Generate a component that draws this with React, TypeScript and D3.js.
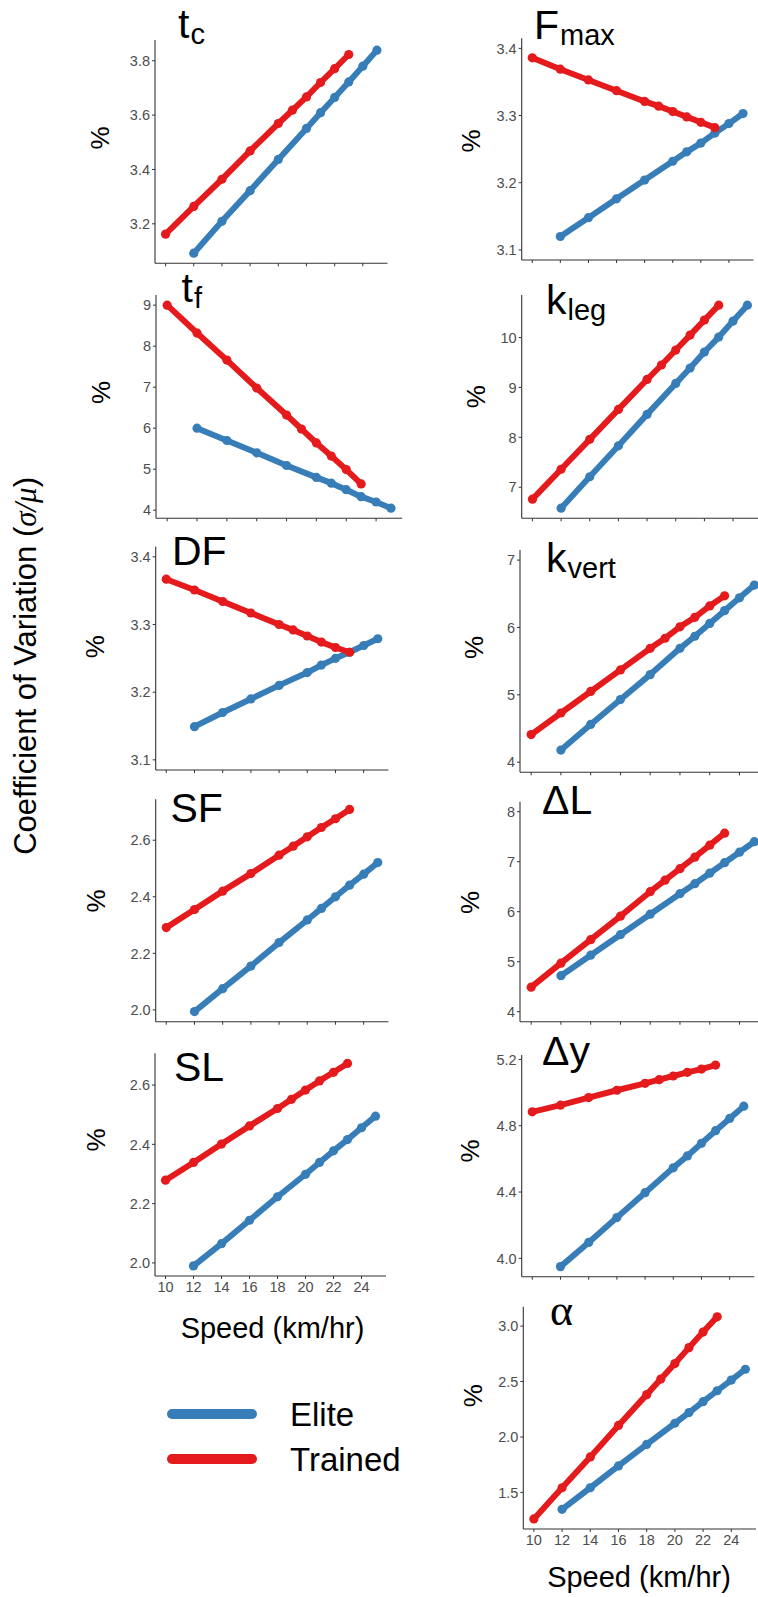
import React from "react";
import * as d3 from "d3";

// speeds (km/hr) at which each group was measured
const speedTrained = [10, 12, 14, 16, 18, 19, 20, 21, 22, 23];
const speedElite = [12, 14, 16, 18, 20, 21, 22, 23, 24, 25];
const xTicks = [10, 12, 14, 16, 18, 20, 22, 24];

// coefficient of variation (%) per variable
const tcTrained = [3.162, 3.264, 3.364, 3.468, 3.569, 3.618, 3.667, 3.72, 3.771, 3.823];
const tcElite = [3.092, 3.209, 3.322, 3.437, 3.551, 3.609, 3.665, 3.722, 3.78, 3.839];
const fmaxTrained = [3.386, 3.369, 3.353, 3.337, 3.321, 3.314, 3.306, 3.298, 3.29, 3.282];
const fmaxElite = [3.12, 3.148, 3.176, 3.204, 3.232, 3.246, 3.259, 3.274, 3.288, 3.303];
const tfTrained = [9.0, 8.32, 7.66, 6.98, 6.32, 5.98, 5.64, 5.32, 4.99, 4.64];
const tfElite = [6.0, 5.7, 5.4, 5.09, 4.8, 4.66, 4.5, 4.33, 4.2, 4.05];
const klegTrained = [6.76, 7.36, 7.96, 8.56, 9.16, 9.45, 9.75, 10.05, 10.35, 10.65];
const klegElite = [6.58, 7.21, 7.83, 8.46, 9.08, 9.39, 9.71, 10.01, 10.33, 10.65];
const dfTrained = [3.367, 3.351, 3.334, 3.317, 3.3, 3.292, 3.283, 3.274, 3.266, 3.259];
const dfElite = [3.149, 3.17, 3.19, 3.21, 3.229, 3.24, 3.25, 3.259, 3.269, 3.279];
const kvertTrained = [4.41, 4.73, 5.05, 5.37, 5.69, 5.84, 6.01, 6.15, 6.32, 6.47];
const kvertElite = [4.18, 4.56, 4.93, 5.3, 5.69, 5.87, 6.06, 6.25, 6.44, 6.63];
const sfTrained = [2.291, 2.355, 2.42, 2.482, 2.547, 2.579, 2.612, 2.645, 2.676, 2.709];
const sfElite = [1.994, 2.075, 2.155, 2.238, 2.318, 2.359, 2.4, 2.441, 2.48, 2.521];
const dlTrained = [4.49, 4.97, 5.44, 5.91, 6.4, 6.63, 6.86, 7.09, 7.33, 7.57];
const dlElite = [4.72, 5.13, 5.54, 5.95, 6.36, 6.56, 6.77, 6.98, 7.19, 7.4];
const slTrained = [2.279, 2.339, 2.401, 2.462, 2.521, 2.552, 2.583, 2.614, 2.643, 2.673];
const slElite = [1.99, 2.065, 2.144, 2.223, 2.299, 2.339, 2.378, 2.416, 2.456, 2.495];
const dyTrained = [4.884, 4.924, 4.97, 5.014, 5.056, 5.078, 5.1, 5.122, 5.142, 5.166];
const dyElite = [3.95, 4.096, 4.246, 4.396, 4.546, 4.618, 4.694, 4.77, 4.844, 4.918];
const alphaTrained = [1.261, 1.542, 1.82, 2.104, 2.382, 2.522, 2.662, 2.806, 2.946, 3.084];
const alphaElite = [1.347, 1.542, 1.739, 1.933, 2.124, 2.22, 2.318, 2.417, 2.513, 2.611];

const groups = ["Elite", "Trained"];
const colors = { Elite: "#377EB8", Trained: "#E41A1C" };

const FONT = "'Liberation Sans', Arial, Helvetica, sans-serif";
const SERIF = "'Liberation Serif', 'DejaVu Serif', serif";

// each panel was pasted in at a slightly different size, so each gets its own box
const panels = [
  { id: "tc", main: "t", sub: "c", elite: tcElite, trained: tcTrained, yTicks: [3.2, 3.4, 3.6, 3.8], fmt: ".1f",
    box: { l: 155, t: 40, b: 263.3, u: 14.09 }, title: [178, 38.3], pct: [100, 138], xLabels: false },
  { id: "fmax", main: "F", sub: "max", elite: fmaxElite, trained: fmaxTrained, yTicks: [3.1, 3.2, 3.3, 3.4], fmt: ".1f", lim: [3.1, 3.4],
    box: { l: 521.7, t: 38.3, b: 260, u: 14.05 }, title: [534, 39.3], pct: [471, 141], xLabels: false },
  { id: "tf", main: "t", sub: "f", elite: tfElite, trained: tfTrained, yTicks: [4, 5, 6, 7, 8, 9], fmt: "d",
    box: { l: 156, t: 295, b: 518.3, u: 14.92 }, title: [181.5, 302.3], pct: [101, 392.5], xLabels: false },
  { id: "kleg", main: "k", sub: "leg", elite: klegElite, trained: klegTrained, yTicks: [7, 8, 9, 10], fmt: "d",
    box: { l: 521.7, t: 295, b: 518.3, u: 14.33 }, title: [546, 314.3], pct: [475.5, 396.7], xLabels: false },
  { id: "df", main: "DF", elite: dfElite, trained: dfTrained, yTicks: [3.1, 3.2, 3.3, 3.4], fmt: ".1f", lim: [3.1, 3.4],
    box: { l: 155.7, t: 546.7, b: 770, u: 14.1 }, title: [172, 565], pct: [94.7, 646.7], xLabels: false },
  { id: "kvert", main: "k", sub: "vert", elite: kvertElite, trained: kvertTrained, yTicks: [4, 5, 6, 7], fmt: "d", lim: [4, 7],
    box: { l: 520, t: 550, b: 772.3, u: 14.88 }, title: [546, 571.7], pct: [473.5, 647.5], xLabels: false },
  { id: "sf", main: "SF", elite: sfElite, trained: sfTrained, yTicks: [2.0, 2.2, 2.4, 2.6], fmt: ".1f",
    box: { l: 155.7, t: 799.3, b: 1021.7, u: 14.1 }, title: [170.5, 822.3], pct: [95.5, 901], xLabels: false },
  { id: "dl", main: "\u0394L", elite: dlElite, trained: dlTrained, yTicks: [4, 5, 6, 7, 8], fmt: "d", lim: [4, 8],
    box: { l: 520, t: 801.7, b: 1021.7, u: 14.88 }, title: [542, 814.3], pct: [470, 902.5], xLabels: false },
  { id: "sl", main: "SL", elite: slElite, trained: slTrained, yTicks: [2.0, 2.2, 2.4, 2.6], fmt: ".1f",
    box: { l: 155, t: 1053.3, b: 1276, u: 14.0 }, title: [174, 1081], pct: [96.3, 1140], xLabels: true },
  { id: "dy", main: "\u0394y", elite: dyElite, trained: dyTrained, yTicks: [4.0, 4.4, 4.8, 5.2], fmt: ".1f",
    box: { l: 521.7, t: 1055, b: 1276.7, u: 14.1 }, title: [542, 1065], pct: [470.3, 1151], xLabels: false },
  { id: "alpha", main: "\u03b1", serif: true, elite: alphaElite, trained: alphaTrained, yTicks: [1.5, 2.0, 2.5, 3.0], fmt: ".1f",
    box: { l: 523.3, t: 1306.7, b: 1529, u: 14.1 }, title: [550, 1325], pct: [472.5, 1395.8], xLabels: true },
];

function Panel({ p }) {
  const xDom = [9.25, 25.75];
  const x = d3.scaleLinear().domain(xDom).range([p.box.l, p.box.l + (xDom[1] - xDom[0]) * p.box.u]);
  const ext = d3.extent([...p.elite, ...p.trained, ...(p.lim || [])]);
  const pad = (ext[1] - ext[0]) * 0.05;
  const y = d3.scaleLinear().domain([ext[0] - pad, ext[1] + pad]).range([p.box.b, p.box.t]);
  const fmt = d3.format(p.fmt);
  const series = {
    Elite: p.elite.map((v, i) => [speedElite[i], v]),
    Trained: p.trained.map((v, i) => [speedTrained[i], v]),
  };
  const line = d3.line().x((d) => x(d[0])).y((d) => y(d[1]));
  const [x0, x1] = x.range();

  return (
    <g>
      {/* axes */}
      <line x1={x0} x2={x0} y1={p.box.t} y2={p.box.b} stroke="#333" strokeWidth={1.1} />
      <line x1={x0} x2={x1} y1={p.box.b} y2={p.box.b} stroke="#333" strokeWidth={1.1} />
      {p.yTicks.map((t) => (
        <g key={"y" + t}>
          <line x1={x0 - 3} x2={x0} y1={y(t)} y2={y(t)} stroke="#333" strokeWidth={1} />
          <text x={x0 - 5} y={y(t)} dy="0.36em" textAnchor="end" fontSize={14.5} fill="#4D4D4D" fontFamily={FONT}>
            {fmt(t)}
          </text>
        </g>
      ))}
      {xTicks.map((t) => (
        <g key={"x" + t}>
          <line x1={x(t)} x2={x(t)} y1={p.box.b} y2={p.box.b + 3} stroke="#333" strokeWidth={1} />
          {p.xLabels && (
            <text x={x(t)} y={p.box.b + 16} textAnchor="middle" fontSize={14.5} fill="#4D4D4D" fontFamily={FONT}>
              {t}
            </text>
          )}
        </g>
      ))}
      {/* data */}
      {groups.map((g) => (
        <g key={g}>
          <path d={line(series[g])} fill="none" stroke={colors[g]} strokeWidth={6} strokeLinejoin="round" />
          {series[g].map((d, i) => (
            <circle key={i} cx={x(d[0])} cy={y(d[1])} r={4.6} fill={colors[g]} />
          ))}
        </g>
      ))}
      {/* panel title */}
      <text x={p.title[0]} y={p.title[1]} fontSize={p.serif ? 44 : 41} fontFamily={p.serif ? SERIF : FONT} fill="#000">
        {p.main}
        {p.sub && (
          <tspan fontSize={29} dy={6} dx={1}>
            {p.sub}
          </tspan>
        )}
      </text>
      <text
        transform={`translate(${p.pct[0]},${p.pct[1]}) rotate(-90)`}
        textAnchor="middle"
        dy="0.35em"
        fontSize={26}
        fontFamily={FONT}
        fill="#000"
      >
        %
      </text>
    </g>
  );
}

export default function App() {
  const W = 758;
  const H = 1597;
  const legendY = { Elite: 1414, Trained: 1459 };
  return (
    <svg width={W} height={H} style={{ position: "absolute", left: 0, top: 0, background: "#fff" }}>
      <rect width={W} height={H} fill="#fff" />
      {panels.map((p) => (
        <Panel key={p.id} p={p} />
      ))}
      <text x={272.5} y={1338} textAnchor="middle" fontSize={29} fontFamily={FONT} fill="#000">
        Speed (km/hr)
      </text>
      <text x={639} y={1587} textAnchor="middle" fontSize={29} fontFamily={FONT} fill="#000">
        Speed (km/hr)
      </text>
      <text transform="translate(36,477) rotate(-90)" textAnchor="end" fontSize={31} fontFamily={FONT} fill="#000">
        Coefficient of Variation (
        <tspan fontFamily={SERIF} fontStyle="italic">
          σ/μ
        </tspan>
        )
      </text>
      {groups.map((g) => (
        <g key={g}>
          <line x1={172} x2={252} y1={legendY[g]} y2={legendY[g]} stroke={colors[g]} strokeWidth={10} strokeLinecap="round" />
          <text x={290} y={legendY[g] + 12} fontSize={33} fontFamily={FONT} fill="#000">
            {g}
          </text>
        </g>
      ))}
    </svg>
  );
}
